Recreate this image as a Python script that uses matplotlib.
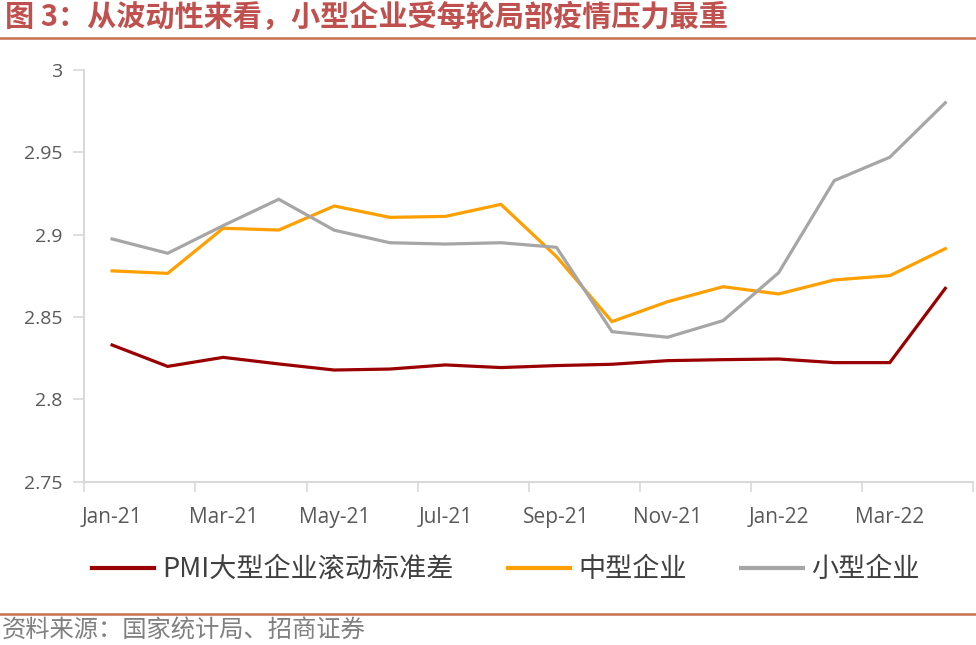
import matplotlib
matplotlib.use("Agg")
import matplotlib.pyplot as plt
from matplotlib.lines import Line2D
from matplotlib.ticker import FixedLocator, FuncFormatter

plt.rcParams['font.family'] = ['Noto Sans CJK SC', 'DejaVu Sans']

months = ["Jan-21", "Feb-21", "Mar-21", "Apr-21", "May-21", "Jun-21", "Jul-21", "Aug-21",
          "Sep-21", "Oct-21", "Nov-21", "Dec-21", "Jan-22", "Feb-22", "Mar-22", "Apr-22"]
large = [2.833, 2.820, 2.8255, 2.8215, 2.8178, 2.8184, 2.8209, 2.8193,
         2.8205, 2.8213, 2.8235, 2.8241, 2.8245, 2.8223, 2.8223, 2.8674]
medium = [2.878, 2.8765, 2.9039, 2.9028, 2.9174, 2.9105, 2.9111, 2.9184,
          2.8867, 2.8472, 2.8593, 2.8684, 2.864, 2.8725, 2.8751, 2.8915]
small = [2.8974, 2.8887, 2.9055, 2.9215, 2.9027, 2.8951, 2.8943, 2.8951,
         2.8923, 2.8411, 2.8377, 2.8478, 2.8769, 2.9328, 2.947, 2.9801]
series_names = ["PMI大型企业滚动标准差", "中型企业", "小型企业"]
yticks = [2.75, 2.8, 2.85, 2.9, 2.95, 3.0]

colors = ["#9B0000", "#FF9F00", "#A6A6A6"]

fig = plt.figure(figsize=(9.76, 6.45), dpi=100)
ax = fig.add_axes([0.0864, 0.2532, 0.9106, 0.6383])

x = list(range(len(months)))
for vals, c, name in zip([large, medium, small], colors, series_names):
    ax.plot(x, vals, color=c, lw=2.3, label=name, solid_joinstyle='miter')

ax.set_xlim(-0.5, len(months) - 0.5)
ax.set_ylim(2.75, 3.0)
ax.yaxis.set_major_locator(FixedLocator(yticks))
ax.yaxis.set_major_formatter(FuncFormatter(lambda v, p: f"{v:g}"))

# x ticks at category boundaries every 2 months; labels at every other month
ax.set_xticks([i - 0.5 for i in range(0, len(months) + 1, 2)])
ax.set_xticks(x[::2], minor=True)
ax.set_xticklabels([])
ax.set_xticklabels(months[::2], minor=True)
ax.tick_params(axis='x', which='minor', length=0, pad=18)
ax.tick_params(axis='x', which='major', length=7, width=1.2, color="#D9D9D9")
ax.tick_params(axis='y', length=8, width=1.2, color="#D9D9D9", pad=8)
for lab in ax.get_xticklabels(minor=True):
    lab.set_fontfamily(['Open Sans', 'DejaVu Sans'])
    lab.set_fontsize(15)
    lab.set_color("#595959")
for lab in ax.get_yticklabels():
    lab.set_fontfamily(['Open Sans', 'DejaVu Sans'])
    lab.set_fontsize(14)
    lab.set_color("#595959")

for s in ["top", "right"]:
    ax.spines[s].set_visible(False)
for s in ["left", "bottom"]:
    ax.spines[s].set_color("#D9D9D9")
    ax.spines[s].set_linewidth(1.5)

handles = [Line2D([0], [0], color=c, lw=3) for c in colors]
fig.legend(handles, series_names, loc='center', bbox_to_anchor=(0.518, 0.117), ncol=3,
           frameon=False, fontsize=19.5, handlelength=2.3, handletextpad=0.3,
           columnspacing=2.0, labelcolor="#404040")

# title
fig.text(0.005, 1 - 17 / 645, "图 3：从波动性来看，小型企业受每轮局部疫情压力最重",
         fontsize=21, color="#C0504D", va='center', ha='left', fontweight='bold')
fig.add_artist(Line2D([0, 1], [1 - 38 / 645, 1 - 38 / 645], color="#C8734F", lw=1.8,
                      transform=fig.transFigure))
fig.add_artist(Line2D([0, 1], [1 - 614 / 645, 1 - 614 / 645], color="#C8734F", lw=1.8,
                      transform=fig.transFigure))
fig.text(0.002, 1 - 631 / 645, "资料来源：国家统计局、招商证券", fontsize=17.5,
         color="#808080", va='center', ha='left')

fig.savefig("out.png", dpi=100)
